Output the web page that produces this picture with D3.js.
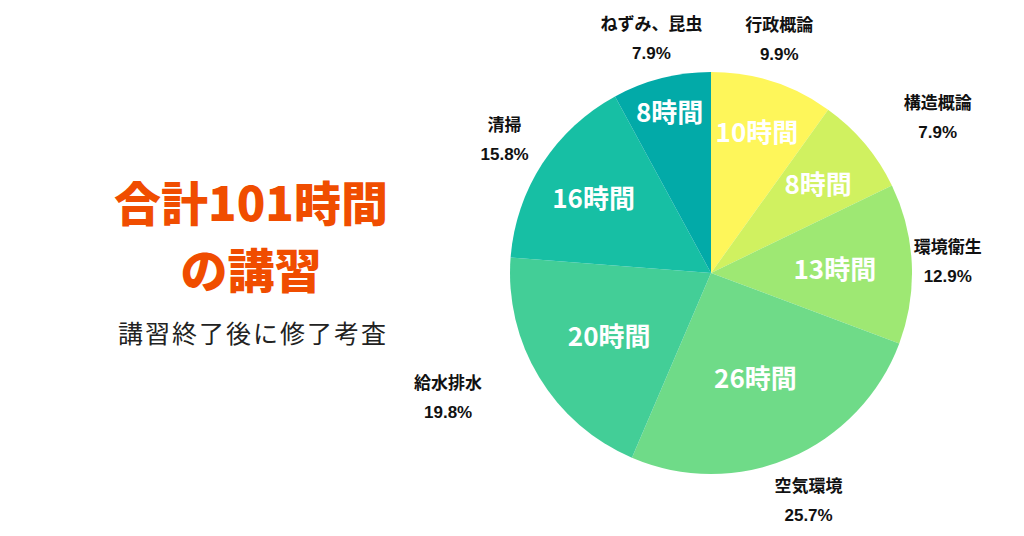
<!DOCTYPE html>
<html><head><meta charset="utf-8">
<script src="https://cdn.jsdelivr.net/npm/d3@7"></script>
<style>html,body{margin:0;padding:0;background:#fff;}svg{display:block;}</style>
</head><body>
<svg id="c" width="1024" height="536"></svg>
<script>
// ---- data ----
const categories = ["行政概論","構造概論","環境衛生","空気環境","給水排水","清掃","ねずみ、昆虫"];
const hours = [10, 8, 13, 26, 20, 16, 8];
const percentLabels = ["9.9%","7.9%","12.9%","25.7%","19.8%","15.8%","7.9%"];
const colors = ["#FEF65A","#D0F160","#9EE873","#6FDB88","#43CE97","#17BFA4","#02AAA8"];
const titleLines = ["合計101時間","の講習"];
const subtitle = "講習終了後に修了考査";

// ---- layout ----
const W = 1024, H = 536, cx = 711, cy = 273, R = 201;
const outerR = 245;
const outerNudgeR = [-2, 30, -8, 3, 46, 1, -3];
const outerNudgeDeg = [-1.5, 5.6, 0, 0, 5.8, 0, 0];
const innerR = [150, 140, 124, 113, 119, 140, 168];
const font = "'Noto Sans CJK JP','Noto Sans',sans-serif";
const labelFont = "'Liberation Sans','Noto Sans CJK JP',sans-serif";

const svg = d3.select("#c");
svg.append("rect").attr("width", W).attr("height", H).attr("fill", "#fff");

const pie = d3.pie().sort(null).value(d => d);
const arcs = pie(hours);
const arc = d3.arc().innerRadius(0).outerRadius(R);

const g = svg.append("g").attr("transform", `translate(${cx},${cy})`);
g.selectAll("path").data(arcs).join("path")
  .attr("d", arc).attr("fill", (d, i) => colors[i]);

const mid = d => (d.startAngle + d.endAngle) / 2;

// inner labels
g.selectAll("text.in").data(arcs).join("text")
  .attr("class", "in")
  .attr("x", (d, i) => innerR[i] * Math.sin(mid(d)))
  .attr("y", (d, i) => -innerR[i] * Math.cos(mid(d)))
  .attr("text-anchor", "middle").attr("dominant-baseline", "central")
  .attr("font-family", font).attr("font-weight", 700).attr("font-size", 26)
  .attr("fill", "#fff")
  .text((d, i) => hours[i] + "時間");

// outer labels
const og = g.selectAll("g.out").data(arcs).join("g")
  .attr("class", "out")
  .attr("transform", (d, i) => {
    const r = outerR + outerNudgeR[i];
    const a = mid(d) + outerNudgeDeg[i] * Math.PI / 180;
    return `translate(${r * Math.sin(a)},${-r * Math.cos(a)})`;
  });
og.append("text").attr("y", -14)
  .attr("text-anchor", "middle").attr("dominant-baseline", "central")
  .attr("font-family", labelFont).attr("font-weight", 700).attr("font-size", 17)
  .attr("fill", "#111").text((d, i) => categories[i]);
og.append("text").attr("y", 15)
  .attr("text-anchor", "middle").attr("dominant-baseline", "central")
  .attr("font-family", labelFont).attr("font-weight", 700).attr("font-size", 17)
  .attr("fill", "#111").text((d, i) => percentLabels[i]);

// title
svg.selectAll("text.title").data(titleLines).join("text")
  .attr("class", "title")
  .attr("x", 251).attr("y", (d, i) => 200 + i * 67)
  .attr("text-anchor", "middle").attr("dominant-baseline", "central")
  .attr("font-family", font).attr("font-weight", 900).attr("font-size", 47)
  .attr("fill", "#F04D00").text(d => d);

svg.append("text").attr("x", 253).attr("y", 332)
  .attr("text-anchor", "middle").attr("dominant-baseline", "central")
  .attr("font-family", font).attr("font-weight", 400).attr("font-size", 25)
  .attr("letter-spacing", 2)
  .attr("fill", "#222").text(subtitle);
</script>
</body></html>
